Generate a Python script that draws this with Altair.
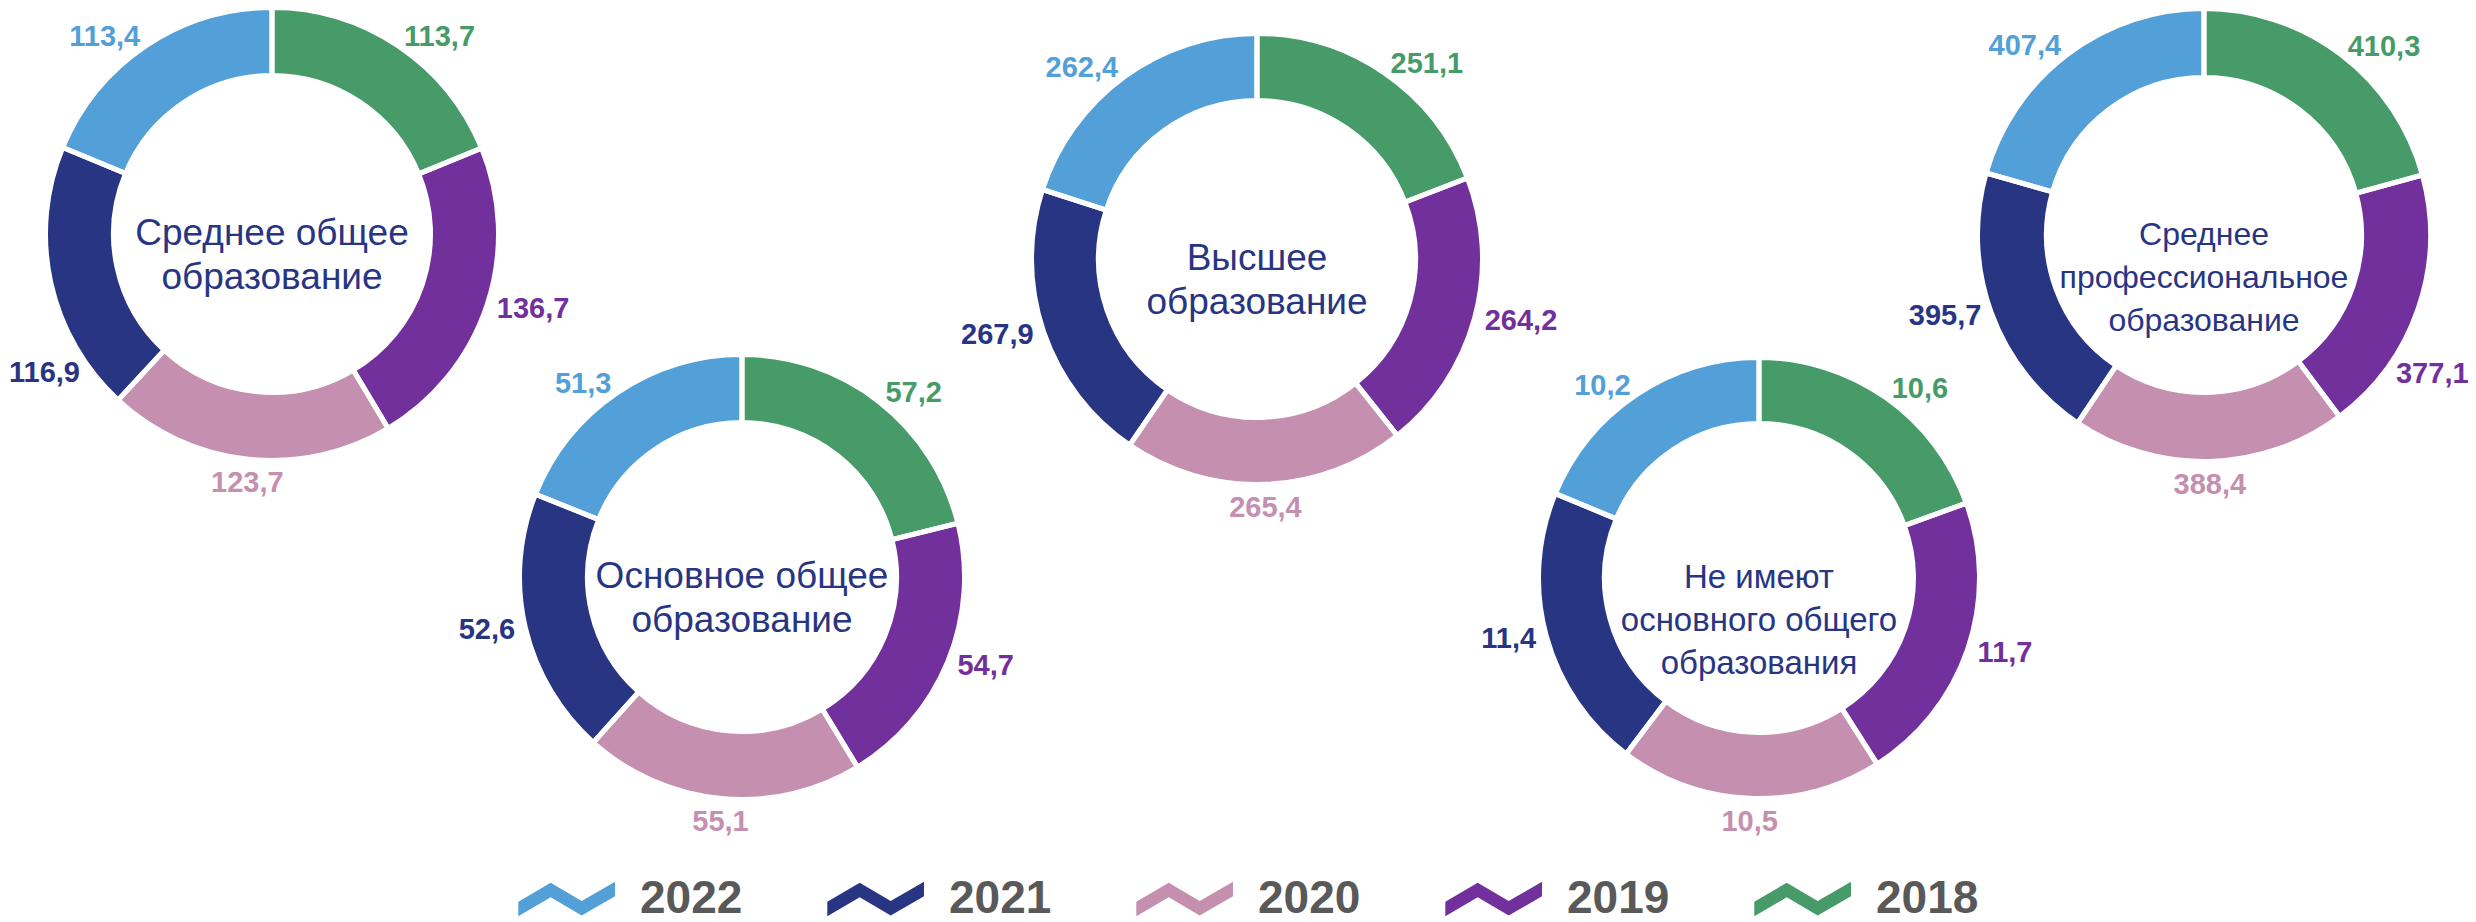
import altair as alt
import pandas as pd

# ---------------- data ----------------
categories = [
    "Среднее общее образование",
    "Основное общее образование",
    "Высшее образование",
    "Не имеют основного общего образования",
    "Среднее профессиональное образование",
]
center_labels = [
    "Среднее общее\nобразование",
    "Основное общее\nобразование",
    "Высшее\nобразование",
    "Не имеют\nосновного общего\nобразования",
    "Среднее\nпрофессиональное\nобразование",
]
years = ["2018", "2019", "2020", "2021", "2022"]
values_srednee_obshchee = [113.7, 136.7, 123.7, 116.9, 113.4]
values_osnovnoe_obshchee = [57.2, 54.7, 55.1, 52.6, 51.3]
values_vysshee = [251.1, 264.2, 265.4, 267.9, 262.4]
values_ne_imeyut = [10.6, 11.7, 10.5, 11.4, 10.2]
values_srednee_prof = [410.3, 377.1, 388.4, 395.7, 407.4]

legend_years = ["2022", "2021", "2020", "2019", "2018"]
legend_colors = ["#52A0D7", "#283583", "#C58FB0", "#71309C", "#469B68"]

series = [values_srednee_obshchee, values_osnovnoe_obshchee, values_vysshee,
          values_ne_imeyut, values_srednee_prof]
rows = []
for cat, vals in zip(categories, series):
    for i, (y, v) in enumerate(zip(years, vals)):
        rows.append({"category": cat, "year": y, "order": i, "value": v})
df = pd.DataFrame(rows)
centers_df = pd.DataFrame({"category": categories, "label": center_labels})

# ---------------- layout (pixel placement of each donut) ----------------
# (center x, center y, outer radius, inner radius, center font size, line height)
layout = [
    (272, 234, 224, 161, 37, 44),
    (742, 577, 220, 157, 37, 44),
    (1257, 259, 223, 161, 37, 44),
    (1759, 578, 218, 157, 33, 43),
    (2204, 235, 224, 160, 32, 43),
]
CHART_W, CHART_H = 2476, 922
LABEL_ROOM = 80  # room kept for a value label at the chart's side edges

FONT = "Liberation Sans, Arial, sans-serif"
NAVY_TEXT = "#283583"

theta_scale = alt.Scale(domain=[0, 1])
color_scale = alt.Scale(domain=legend_years, range=legend_colors)

zigzag = ("M-0.917,0.052 L-0.294,-0.313 L0.302,0.039 L0.942,-0.332 "
          "L0.942,-0.052 L0.302,0.319 L-0.294,-0.033 L-0.917,0.332 Z")

legend = alt.Legend(
    title=None, orient="none", legendX=514, legendY=847,
    direction="horizontal", symbolType=zigzag, symbolSize=104 * 104,
    symbolStrokeWidth=0, symbolOpacity=1,
    labelFont=FONT, labelFontSize=46, labelFontWeight="bold",
    labelColor="#595959", labelOffset=22, columnPadding=80, padding=0,
    labelLimit=300,
)

layers = []
for cat, (cx, cy, R, r, fs, lh) in zip(categories, layout):
    rad = R + 13
    smax_r = min(1.0, (CHART_W - cx - LABEL_ROOM) / rad)
    smax_l = min(1.0, (cx - LABEL_ROOM) / rad)
    base = (
        alt.Chart(df)
        .transform_filter(alt.datum.category == cat)
        .transform_joinaggregate(total="sum(value)")
        .transform_window(cum="sum(value)", sort=[alt.SortField("order")], frame=[None, 0])
        .transform_calculate(
            start="(datum.cum - datum.value) / datum.total",
            end="datum.cum / datum.total",
        )
        .transform_calculate(
            mid="(datum.start + datum.end) / 2",
            mid_deg="(datum.start + datum.end) / 2 * 360",
            label="replace(format(datum.value, '.1f'), '.', ',')",
        )
        .transform_calculate(
            lab_r=(f"sin(2*PI*datum.mid) > {smax_r:.4f} ? "
                   f"(datum.mid > 0.25 ? 0.5 - asin({smax_r:.4f})/(2*PI) : asin({smax_r:.4f})/(2*PI))"
                   f" : datum.mid")
        )
        .transform_calculate(
            lab_t=(f"sin(2*PI*datum.lab_r) < -{smax_l:.4f} ? "
                   f"(datum.lab_r < 0.75 ? 0.5 + asin({smax_l:.4f})/(2*PI) : 1 - asin({smax_l:.4f})/(2*PI))"
                   f" : datum.lab_r")
        )
    )

    arcs = base.mark_arc(outerRadius=R + 2.5, innerRadius=r - 2.5).encode(
        theta=alt.Theta("start:Q", scale=theta_scale, stack=None),
        theta2="end:Q",
        color=alt.Color("year:N", scale=color_scale, legend=legend),
        x=alt.value(cx),
        y=alt.value(cy),
    )
    borders = base.mark_arc(
        outerRadius=R + 2.5, innerRadius=r - 2.5,
        fillOpacity=0, stroke="white", strokeWidth=5,
    ).encode(
        theta=alt.Theta("start:Q", scale=theta_scale, stack=None),
        theta2="end:Q",
        x=alt.value(cx),
        y=alt.value(cy),
    )
    layers += [arcs, borders]

    sides = [
        ("datum.mid_deg < 160", "left", "middle", rad),
        ("datum.mid_deg >= 160 && datum.mid_deg <= 200", "center", "top", R + 12),
        ("datum.mid_deg > 200", "right", "middle", rad),
    ]
    for cond, align, baseline, rr in sides:
        txt = base.transform_filter(cond).mark_text(
            radius=rr, align=align, baseline=baseline,
            font=FONT, fontSize=29, fontWeight="bold",
        ).encode(
            theta=alt.Theta("lab_t:Q", scale=theta_scale, stack=None),
            text="label:N",
            fill=alt.Fill("year:N", scale=color_scale, legend=None),
            x=alt.value(cx),
            y=alt.value(cy),
        )
        layers.append(txt)

    center = (
        alt.Chart(centers_df)
        .transform_filter(alt.datum.category == cat)
        .mark_text(
            font=FONT, fontSize=fs, lineHeight=lh, color=NAVY_TEXT,
            align="center", baseline="middle", lineBreak="\n",
        )
        .encode(text="label:N", x=alt.value(cx), y=alt.value(cy))
    )
    layers.append(center)

chart = (
    alt.layer(*layers)
    .properties(width=CHART_W, height=CHART_H, padding=0,
                autosize=alt.AutoSizeParams(type="none"))
    .configure_view(strokeWidth=0)
)

chart.save("out.html", embed_options={"renderer": "svg", "actions": False})
